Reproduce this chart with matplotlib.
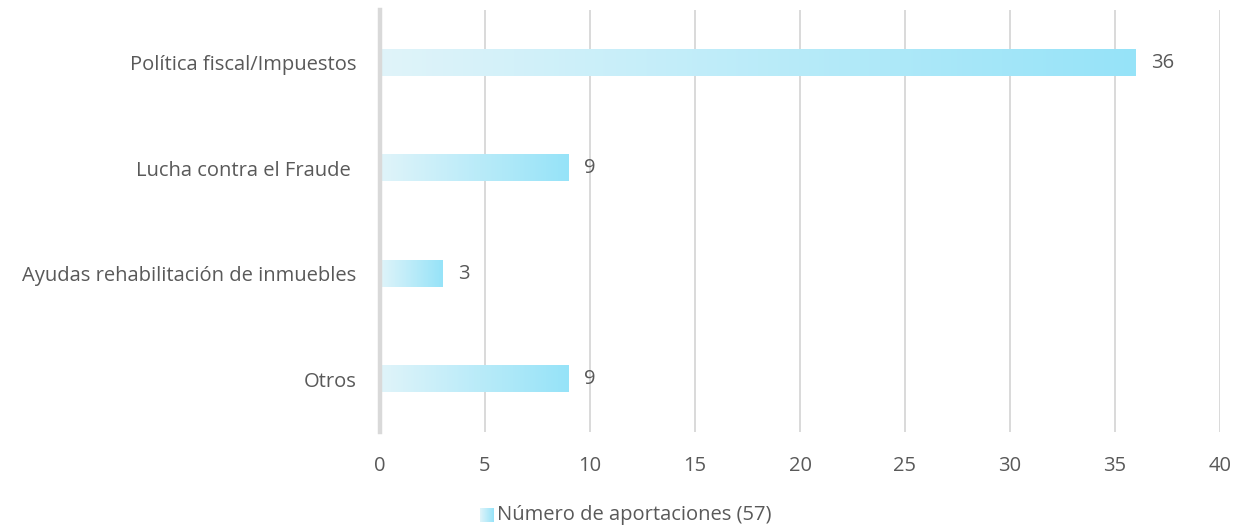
import numpy as np
import matplotlib.pyplot as plt
from matplotlib.colors import LinearSegmentedColormap

plt.rcParams['font.family'] = ['Open Sans', 'DejaVu Sans']

# Data
categories = ['Política fiscal/Impuestos', 'Lucha contra el Fraude ',
              'Ayudas rehabilitación de inmuebles', 'Otros']
values = [36, 9, 3, 9]
legend_label = 'Número de aportaciones (57)'
x_ticks = [0, 5, 10, 15, 20, 25, 30, 35, 40]

text_color = '#595959'
grid_color = '#D9D9D9'
cmap = LinearSegmentedColormap.from_list('bar_grad', ['#E0F4FA', '#96E3F8'])
grad = np.linspace(0, 1, 256).reshape(1, -1)

fig = plt.figure(figsize=(12.41, 5.27), dpi=100)
ax = fig.add_axes([380 / 1241, 1 - 432 / 527, 840 / 1241, 422 / 527])

n = len(categories)
ypos = np.arange(n)[::-1]
bar_h = 0.25

for y, v in zip(ypos, values):
    ax.imshow(grad, cmap=cmap, aspect='auto', extent=[0, v, y - bar_h / 2, y + bar_h / 2],
              interpolation='bicubic', zorder=3)
    ax.text(v + 0.7, y, str(v), va='center', ha='left', fontsize=14.5, color=text_color, zorder=4)

ax.set_xlim(0, 40)
ax.set_ylim(-0.5, n - 0.5)
ax.set_xticks(x_ticks)
ax.set_xticklabels([str(t) for t in x_ticks])
ax.set_yticks(ypos)
ax.set_yticklabels(categories)
ax.tick_params(axis='both', length=0, labelsize=14.5, colors=text_color)
ax.tick_params(axis='x', pad=17)
ax.tick_params(axis='y', pad=17)

ax.grid(True, axis='x', color=grid_color, linewidth=1.4, zorder=0)
ax.set_axisbelow(True)
for side in ['top', 'right', 'bottom']:
    ax.spines[side].set_visible(False)
ax.spines['left'].set_color(grid_color)
ax.spines['left'].set_linewidth(3.2)
ax.spines['left'].set_zorder(5)

# Legend: gradient square + label
lax = fig.add_axes([480 / 1241, 1 - 522 / 527, 14 / 1241, 14 / 527])
lax.imshow(grad, cmap=cmap, aspect='auto', extent=[0, 1, 0, 1])
lax.axis('off')
fig.text(497 / 1241, 1 - 515 / 527, legend_label, fontsize=14.5, color=text_color,
         va='center', ha='left')

fig.savefig('out.png', dpi=100)
